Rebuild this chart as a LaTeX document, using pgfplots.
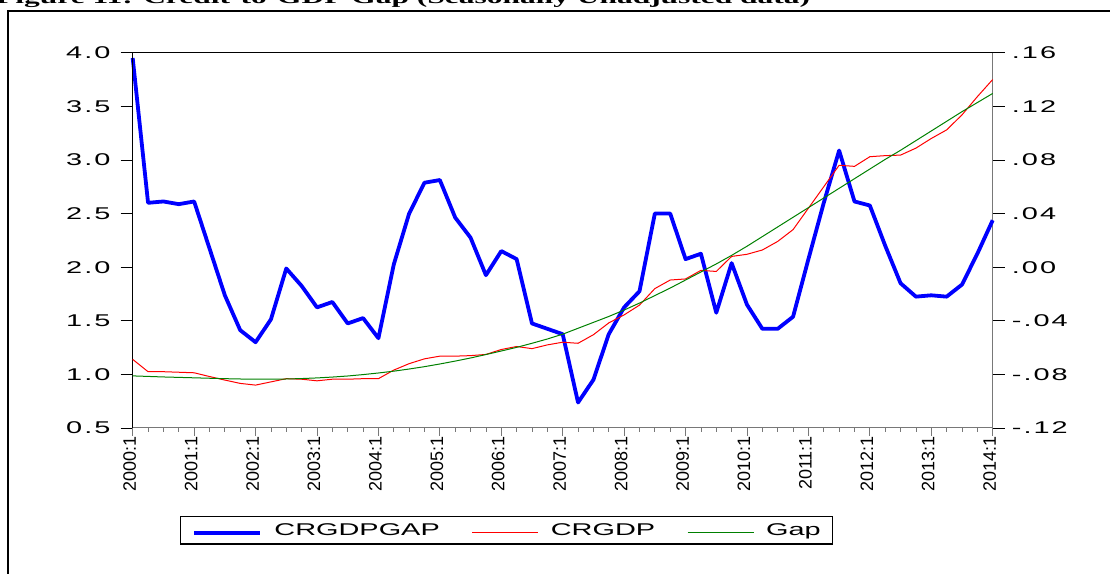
\documentclass[border=0pt]{standalone}
\usepackage{pgfplots}
\pgfplotsset{compat=1.18}
\usepackage{fontspec}
\setmainfont{Liberation Sans}[FakeStretch=1.7]
\newfontfamily\tickfont{Liberation Sans}[FakeStretch=1.7, LetterSpace=12]
\newfontfamily\xlabfont{Liberation Sans}
\newfontfamily\titlefont{Liberation Serif}[FakeStretch=1.7]
\definecolor{axgray}{RGB}{120,120,120}
\definecolor{gapgreen}{RGB}{0,128,0}

\pgfplotstableread{
i gap
0 0.156
1 0.048
2 0.049
3 0.047
4 0.049
5 0.014
6 -0.021
7 -0.047
8 -0.056
9 -0.039
10 -0.001
11 -0.014
12 -0.030
13 -0.026
14 -0.042
15 -0.038
16 -0.053
17 0.002
18 0.040
19 0.063
20 0.065
21 0.037
22 0.022
23 -0.006
24 0.012
25 0.006
26 -0.042
27 -0.046
28 -0.050
29 -0.101
30 -0.084
31 -0.050
32 -0.030
33 -0.018
34 0.040
35 0.040
36 0.006
37 0.010
38 -0.034
39 0.003
40 -0.028
41 -0.046
42 -0.046
43 -0.037
44 0.006
45 0.048
46 0.087
47 0.049
48 0.046
49 0.016
50 -0.012
51 -0.022
52 -0.021
53 -0.022
54 -0.013
55 0.010
56 0.035
}\gapdata

\pgfplotstableread{
i crgdp trend
0 1.140 0.986
1 1.025 0.981
2 1.025 0.976
3 1.020 0.972
4 1.015 0.968
5 0.980 0.964
6 0.947 0.960
7 0.916 0.957
8 0.900 0.955
9 0.930 0.955
10 0.960 0.957
11 0.955 0.961
12 0.940 0.967
13 0.955 0.975
14 0.955 0.985
15 0.960 0.998
16 0.960 1.013
17 1.040 1.030
18 1.100 1.050
19 1.145 1.072
20 1.170 1.097
21 1.170 1.124
22 1.175 1.153
23 1.186 1.185
24 1.232 1.218
25 1.260 1.252
26 1.240 1.290
27 1.275 1.330
28 1.300 1.375
29 1.290 1.430
30 1.370 1.485
31 1.480 1.540
32 1.555 1.600
33 1.646 1.665
34 1.800 1.735
35 1.880 1.805
36 1.890 1.880
37 1.970 1.955
38 1.960 2.030
39 2.100 2.110
40 2.120 2.195
41 2.160 2.285
42 2.240 2.375
43 2.350 2.465
44 2.550 2.555
45 2.750 2.645
46 2.950 2.735
47 2.940 2.825
48 3.030 2.915
49 3.040 3.005
50 3.045 3.090
51 3.110 3.180
52 3.200 3.270
53 3.280 3.360
54 3.420 3.450
55 3.590 3.535
56 3.750 3.620
}\crdata

\begin{document}
\begin{tikzpicture}
\useasboundingbox (0bp,0bp) rectangle (1110bp,574bp);
\clip (0bp,0bp) rectangle (1110bp,574bp);
% outer frame and clipped caption
\draw[line width=2bp] (8bp,-20bp) -- (8bp,563bp) -- (1130bp,563bp);
\node[anchor=base west, inner sep=0pt, font=\titlefont\bfseries\fontsize{18.5bp}{20bp}\selectfont] at (-4bp,570.5bp) {Figure 11: Credit-to-GDP Gap (Seasonally Unadjusted data)};

% right axis: CRGDPGAP
\begin{axis}[
  at={(132.7bp,146bp)}, anchor=south west,
  scale only axis, width=860bp, height=375.3bp,
  xmin=0, xmax=56, ymin=-0.12, ymax=0.16,
  axis x line=none, axis y line*=right,
  y axis line style={draw=axgray, line width=1bp},
  ytick={-0.12,-0.08,-0.04,0,0.04,0.08,0.12,0.16},
  yticklabels={-.12,-.08,-.04,.00,.04,.08,.12,.16},
  tick align=outside, major tick length=12bp,
  ytick style={black, line width=0.8bp},
  yticklabel style={font=\tickfont\fontsize{17bp}{20bp}\selectfont, anchor=west, inner sep=0pt, xshift=7bp},
  clip=false,
  legend columns=3,
  legend style={at={(0.055,-0.2345)}, anchor=north west, draw=black, line width=1.2bp,
    inner xsep=12bp, inner ysep=7bp,
    font=\fontsize{17bp}{20bp}\selectfont,
    nodes={inner sep=0pt, anchor=base west},
    /tikz/every odd column/.append style={column sep=12bp},
    /tikz/every even column/.append style={column sep=32bp}},
  legend image code/.code={\draw[#1] (0bp,0.5ex) -- (66bp,0.5ex);},
]
\addplot[blue, line width=3.8bp, line join=round] table[x=i, y=gap] {\gapdata};
\addlegendentry{CRGDPGAP}
\addlegendimage{red, line width=1bp}
\addlegendentry{CRGDP}
\addlegendimage{gapgreen, line width=1bp}
\addlegendentry{Gap}
\end{axis}

% left axis: CRGDP and trend
\begin{axis}[
  at={(132.7bp,146bp)}, anchor=south west,
  scale only axis, width=860bp, height=375.3bp,
  xmin=0, xmax=56, ymin=0.5, ymax=4.0,
  axis x line*=top, axis y line*=left,
  axis line style={draw=black, line width=1bp},
  xtick=\empty,
  ytick={0.5,1.0,1.5,2.0,2.5,3.0,3.5,4.0},
  yticklabels={0.5,1.0,1.5,2.0,2.5,3.0,3.5,4.0},
  tick align=outside, major tick length=12bp,
  ytick style={black, line width=0.8bp},
  yticklabel style={font=\tickfont\fontsize{17bp}{20bp}\selectfont, anchor=east, inner sep=0pt, xshift=-10bp},
  clip=false,
]
\addplot[red, line width=1bp] table[x=i, y=crgdp] {\crdata};
\addplot[gapgreen, line width=1bp] table[x=i, y=trend] {\crdata};
\end{axis}

% bottom date axis
\begin{axis}[
  at={(132.7bp,146bp)}, anchor=south west,
  scale only axis, width=860bp, height=375.3bp,
  xmin=0, xmax=56, ymin=0, ymax=1,
  axis x line*=bottom, axis y line=none,
  x axis line style={draw=axgray, line width=1bp},
  xtick={0,4,...,56},
  xticklabels={2000:1,2001:1,2002:1,2003:1,2004:1,2005:1,2006:1,2007:1,2008:1,2009:1,2010:1,2011:1,2012:1,2013:1,2014:1},
  minor x tick num=3,
  tick align=outside, major tick length=8bp, minor tick length=4bp,
  xtick style={axgray, line width=0.8bp},
  xticklabel style={font=\xlabfont\fontsize{18bp}{20bp}\selectfont, xshift=-6bp, rotate=90, anchor=east, inner sep=0pt, yshift=-3bp},
]
\end{axis}
\end{tikzpicture}
\end{document}
